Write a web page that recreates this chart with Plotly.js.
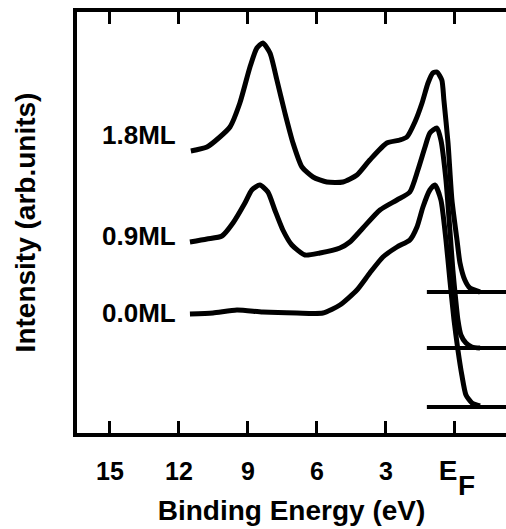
<!DOCTYPE html>
<html>
<head>
<meta charset="utf-8">
<script src="https://cdn.plot.ly/plotly-3.0.1.min.js"></script>
<style>
html,body{margin:0;padding:0;background:#fff;}
.xtick text, .xtick tspan { font-weight: 700 !important; }
</style>
</head>
<body>
<div id="chart" style="width:506px;height:529px;"></div>
<script>
// Binding energy (eV) and intensity (arb. units)
const energy18 = [11.48,10.78,10.22,9.78,9.35,8.91,8.61,8.35,8.04,7.74,7.39,7.04,6.65,6.17,5.57,4.87,4.26,3.70,2.96,2.39,2.09,1.74,1.43,1.17,0.96,0.78,0.57,0.48,0.30,0.13,-0.09,-0.22,-0.43,-0.65,-1.09];
const intens18 = [282,286,296,306,330,366,385,390,380,353,320,290,266,256,251,251,258,273,290,293,296,311,330,350,360,361,353,333,290,233,193,170,153,145,141];

const energy09 = [11.52,10.78,10.13,9.65,9.13,8.83,8.48,8.13,7.83,7.48,7.09,6.52,5.87,5.00,4.57,4.00,3.26,2.52,1.96,1.61,1.30,1.09,0.78,0.61,0.39,0.22,0.09,0.00,-0.13,-0.26,-0.48,-0.74,-1.09];
const intens09 = [191,194,197,210,230,243,248,241,223,203,188,178,180,185,191,205,223,233,241,263,286,300,305,293,253,203,163,141,113,98,90,86,85];

const energy00 = [11.52,10.52,9.48,8.35,6.87,5.74,5.00,4.26,3.70,3.13,2.52,1.96,1.65,1.39,1.09,0.87,0.61,0.39,0.22,0.04,-0.13,-0.30,-0.48,-0.74,-1.09];
const intens00 = [119,120,123,121,120,120,128,143,160,176,186,193,206,226,243,248,233,193,153,113,83,58,38,30,27];

const baselineEnergy = [1.22, -2.4];
const baselines = [141, 85, 26];

const seriesLabels = ['1.8ML', '0.9ML', '0.0ML'];
const labelLevels = [298, 197, 120];

const tickValues = [15, 12, 9, 6, 3, 0];
const tickLabels = ['<b>15</b>', '<b>12</b>', '<b>9</b>', '<b>6</b>', '<b>3</b>', "<b><span style='font-size:28px'>E</span>&nbsp;&nbsp;</b>"];
const subscriptText = 'F';

const FONT = 'Liberation Sans, Arial, sans-serif';
const lineStyle = {color: '#000', width: 5, shape: 'spline', smoothing: 0.6};
const curves = [[energy18, intens18], [energy09, intens09], [energy00, intens00]];
const traces = curves.map((c, i) => ({
  x: c[0], y: c[1], type: 'scatter', mode: 'lines', name: seriesLabels[i],
  line: lineStyle, hoverinfo: 'skip'
}));
baselines.forEach((b, i) => traces.push({
  x: baselineEnergy, y: [b, b], type: 'scatter', mode: 'lines',
  name: seriesLabels[i] + ' baseline', line: {color: '#000', width: 4}, hoverinfo: 'skip'
}));

const annotations = seriesLabels.map((t, i) => ({
  text: '<b>' + t + '</b>', x: 12.05, y: labelLevels[i], xref: 'x', yref: 'y',
  xanchor: 'right', yanchor: 'middle', showarrow: false,
  font: {family: FONT, size: 26, color: '#000'}
}));
annotations.push({
  text: '<b>' + subscriptText + '</b>', x: -0.52, y: -0.124, xref: 'x', yref: 'paper',
  xanchor: 'center', yanchor: 'middle', showarrow: false,
  font: {family: FONT, size: 28, color: '#000'}
});

const layout = {
  width: 506, height: 529,
  margin: {l: 77, r: 0, t: 12, b: 96},
  paper_bgcolor: '#fff', plot_bgcolor: '#fff',
  showlegend: false,
  font: {family: FONT, color: '#000'},
  xaxis: {
    range: [16.43, -2.22], showgrid: false, zeroline: false,
    showline: true, linecolor: '#000', linewidth: 4, mirror: 'ticks',
    ticks: 'inside', ticklen: 12, tickwidth: 3, tickcolor: '#000',
    tickvals: tickValues, ticktext: tickLabels,
    tickfont: {family: FONT, size: 25, color: '#000', weight: 'bold'},
    ticklabelstandoff: 13,
    title: {text: '<b>Binding Energy (eV)</b>', font: {family: FONT, size: 28, color: '#000'}, standoff: 16}
  },
  yaxis: {
    range: [0, 421], showgrid: false, zeroline: false,
    showline: true, linecolor: '#000', linewidth: 4, mirror: false,
    ticks: '', showticklabels: false,
    title: {text: '<b>Intensity (arb.units)</b>', font: {family: FONT, size: 28, color: '#000'}, standoff: 30}
  },
  annotations: annotations
};

Plotly.newPlot('chart', traces, layout, {displayModeBar: false, staticPlot: true});
</script>
</body>
</html>
